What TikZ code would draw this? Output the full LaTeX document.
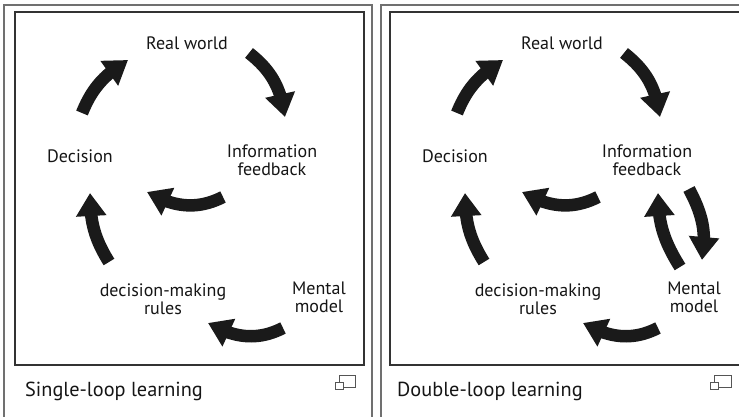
\documentclass[tikz,border=0pt]{standalone}
\usepackage{fontspec}
\setmainfont{PT Sans}
\usetikzlibrary{arrows.meta,bending}
\definecolor{arrowc}{HTML}{1A1A1A}
\definecolor{textc}{HTML}{151515}
\definecolor{framec}{HTML}{707070}
\definecolor{boxc}{HTML}{333333}
\definecolor{iconc}{HTML}{555555}
\tikzset{
  bigarrow/.style={line width=12.5pt, draw=arrowc, -{Triangle[length=23pt,width=29pt]}},
  lbl/.style={font=\fontsize{18}{18}\selectfont, align=center, text=textc, inner sep=0pt, anchor=base},
  caption/.style={font=\fontsize{20.3}{21}\selectfont, text=textc, inner sep=0pt, anchor=base west},
  outerframe/.style={draw=framec, line width=1.6pt},
  innerbox/.style={draw=boxc, line width=1.2pt},
  iconline/.style={draw=iconc, line width=0.9pt},
  loopdiagram/.pic={
    \node[lbl] (-real) at (187,367) {Real world};
    \node[lbl] (-dec) at (80,254) {Decision};
    \node[lbl] (-info) at (272,241) {Information\\feedback};
    \node[lbl] (-rules) at (163,102) {decision-making\\rules};
    \node[lbl] (-mental) at (319,104) {Mental\\model};
    \coordinate (-t1) at (82,304);  \coordinate (-h1) at (128,357);
    \coordinate (-t2) at (249,364); \coordinate (-h2) at (285,300);
    \coordinate (-t3) at (223,220); \coordinate (-h3) at (147,225);
    \coordinate (-t4) at (109,155); \coordinate (-h4) at (90,224);
    \coordinate (-t5) at (283,89);  \coordinate (-h5) at (208,94);
    \draw[bigarrow] (-t1) to[out=68,in=212] (-h1);
    \draw[bigarrow] (-t2) to[out=-38,in=98] (-h2);
    \draw[bigarrow] (-t3) to[out=207,in=-30] (-h3);
    \draw[bigarrow] (-t4) to[out=122,in=-90] (-h4);
    \draw[bigarrow] (-t5) to[out=207,in=-30] (-h5);
  }
}
\begin{document}
\begin{tikzpicture}[x=1pt,y=1pt]
\useasboundingbox (0,0) rectangle (739,417);
\clip (0,0) rectangle (739,417);
% frames
\draw[outerframe] (4,-5) -- (4,412) -- (372,412) -- (372,-5);
\draw[outerframe] (381,-5) -- (381,412) -- (745,412);
\draw[innerbox] (15,405) rectangle (364,52);
\draw[innerbox] (390,405) rectangle (745,52);
% left panel
\pic (L) at (0,0) {loopdiagram};
\node[caption] (Lcap) at (25,20) {Single-loop learning};
% right panel
\pic (R) at (375,0) {loopdiagram};
\coordinate (Rt6) at (689,228); \coordinate (Rh6) at (702,157);
\coordinate (Rt7) at (680,150); \coordinate (Rh7) at (658,224);
\draw[bigarrow] (Rt6) to[out=-62,in=80] (Rh6);
\draw[bigarrow] (Rt7) to[out=122,in=-90] (Rh7);
\node[caption] (Rcap) at (397,20) {Double-loop learning};
% enlarge icons
\draw[iconline] (339,35) -- (339,42) -- (355,42) -- (355,30) -- (343,30);
\draw[iconline, fill=white] (335,28) rectangle (343,35);
\draw[iconline] (714,35) -- (714,42) -- (731,42) -- (731,30) -- (718,30);
\draw[iconline, fill=white] (710,28) rectangle (718,35);
\end{tikzpicture}
\end{document}
